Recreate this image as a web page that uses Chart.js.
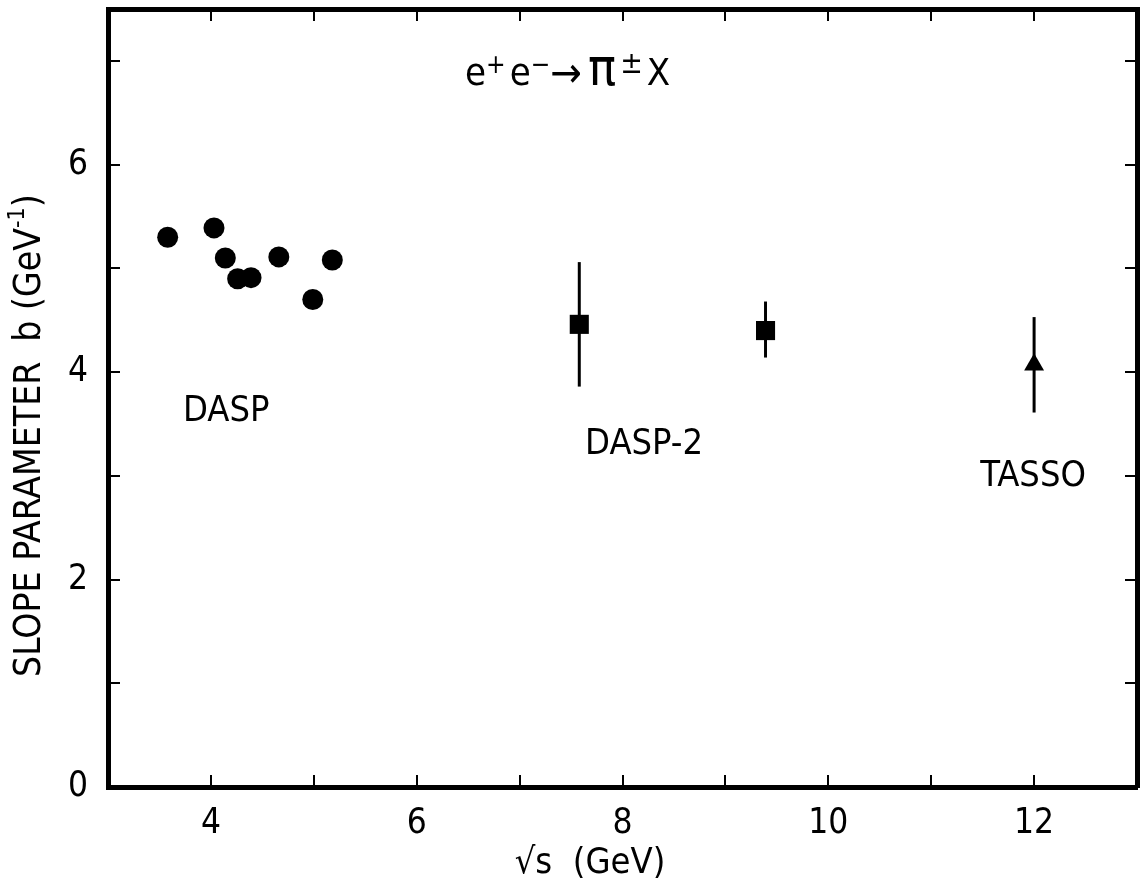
<!DOCTYPE html>
<html>
<head>
<meta charset="utf-8">
<title>Slope parameter b vs sqrt(s)</title>
<script src="https://cdn.jsdelivr.net/npm/chart.js@4.4.1/dist/chart.umd.min.js"></script>
<style>
  html, body { margin: 0; padding: 0; background: #fff; }
  #wrap { width: 1142px; height: 894px; }
</style>
</head>
<body>
<div id="wrap"><canvas id="slopeChart"></canvas></div>
<script>
// values
const daspX = [3.58, 4.03, 4.14, 4.26, 4.39, 4.66, 4.99, 5.18];
const daspB = [5.30, 5.39, 5.10, 4.90, 4.91, 5.11, 4.70, 5.08];

const dasp2X = [7.58, 9.39];
const dasp2B = [4.46, 4.40];
const dasp2Lo = [3.86, 4.14];
const dasp2Hi = [5.06, 4.68];

const tassoX = [12.0];
const tassoB = [4.07];
const tassoLo = [3.61];
const tassoHi = [4.53];

const xTickLabels = [4, 6, 8, 10, 12];
const yTickLabels = [0, 2, 4, 6];

// group names, anchored in data units
const groupNames = ['DASP', 'DASP-2', 'TASSO'];
const groupNameX = [4.15, 8.21, 11.99];
const groupNameY = [3.62, 3.30, 2.99];

const FONT = "'Liberation Sans Narrow', 'DejaVu Sans Condensed', 'Arial Narrow', sans-serif";

function points(xs, ys) {
    return xs.map((x, i) => ({ x: x, y: ys[i] }));
}

// draws a row of text pieces of different sizes / raise
function drawRun(ctx, pieces, x, y) {
    pieces.forEach(p => {
        ctx.font = p.size + 'px ' + FONT;
        ctx.fillText(p.t, x, y + (p.dy || 0));
        x += ctx.measureText(p.t).width + (p.gap || 0);
    });
}

// fixed axis box, no extra room for tick labels sticking out
function fixSize(scale, size) {
    if (scale.isHorizontal()) scale.height = size; else scale.width = size;
    scale.paddingTop = scale.paddingBottom = scale.paddingLeft = scale.paddingRight = 0;
}

const errorBars = {
    id: 'errorBars',
    afterDatasetsDraw(chart) {
        const ctx = chart.ctx;
        const xs = chart.scales.x, ys = chart.scales.y;
        ctx.save();
        ctx.strokeStyle = '#000';
        ctx.lineWidth = 3;
        chart.data.datasets.forEach(ds => {
            if (!ds.errLow) return;
            ds.data.forEach((p, i) => {
                const px = xs.getPixelForValue(p.x);
                ctx.beginPath();
                ctx.moveTo(px, ys.getPixelForValue(ds.errLow[i]));
                ctx.lineTo(px, ys.getPixelForValue(ds.errHigh[i]));
                ctx.stroke();
            });
        });
        ctx.restore();
    }
};

const texts = {
    id: 'texts',
    afterDraw(chart) {
        const ctx = chart.ctx;
        const xs = chart.scales.x, ys = chart.scales.y;
        const area = chart.chartArea;
        ctx.save();
        ctx.fillStyle = '#000';

        // group names
        ctx.textAlign = 'center';
        ctx.textBaseline = 'middle';
        ctx.font = '36px ' + FONT;
        groupNames.forEach((name, i) => {
            ctx.fillText(name, xs.getPixelForValue(groupNameX[i]), ys.getPixelForValue(groupNameY[i]));
        });

        // reaction
        ctx.textAlign = 'left';
        ctx.textBaseline = 'alphabetic';
        drawRun(ctx, [
            { t: 'e', size: 38 },
            { t: '+', size: 26, dy: -12, gap: 4 },
            { t: 'e', size: 38 },
            { t: '\u2212', size: 26, dy: -12, gap: 0 },
            { t: '\u2192', size: 42, dy: 2, gap: 6 },
            { t: '\u03c0', size: 52, gap: 4 },
            { t: '\u00b1', size: 30, dy: -12, gap: 4 },
            { t: 'X', size: 38 }
        ], xs.getPixelForValue(6.47), ys.getPixelForValue(6.77));

        // x axis title
        ctx.textAlign = 'center';
        ctx.textBaseline = 'middle';
        ctx.font = '36px ' + FONT;
        ctx.fillText('\u221as  (GeV)', area.left + 482, area.bottom + 77);

        // y axis title
        ctx.translate(30, area.bottom - 110);
        ctx.rotate(-Math.PI / 2);
        ctx.textAlign = 'left';
        ctx.textBaseline = 'middle';
        drawRun(ctx, [
            { t: 'SLOPE PARAMETER', size: 37, gap: 20 },
            { t: 'b (GeV', size: 37 },
            { t: '-1', size: 23, dy: -12 },
            { t: ')', size: 37 }
        ], 0, 0);
        ctx.restore();
    }
};

function frameAxis(position, size, min, max) {
    return {
        type: 'linear',
        position: position,
        min: min,
        max: max,
        ticks: { display: false, stepSize: 1 },
        grid: { drawOnChartArea: false, tickLength: -12, lineWidth: 2, color: '#000' },
        border: { display: true, width: 5, color: '#000' },
        afterFit(scale) { fixSize(scale, size); }
    };
}

new Chart(document.getElementById('slopeChart'), {
    type: 'scatter',
    data: {
        datasets: [{
            label: 'DASP',
            data: points(daspX, daspB),
            pointStyle: 'circle',
            pointRadius: 10.5,
            pointHoverRadius: 10.5,
            backgroundColor: '#000',
            borderColor: '#000',
            borderWidth: 0
        }, {
            label: 'DASP-2',
            data: points(dasp2X, dasp2B),
            errLow: dasp2Lo,
            errHigh: dasp2Hi,
            pointStyle: 'rect',
            pointRadius: 13.5,
            pointHoverRadius: 13.5,
            backgroundColor: '#000',
            borderColor: '#000',
            borderWidth: 0
        }, {
            label: 'TASSO',
            data: points(tassoX, tassoB),
            errLow: tassoLo,
            errHigh: tassoHi,
            pointStyle: 'triangle',
            pointRadius: 11.5,
            pointHoverRadius: 11.5,
            backgroundColor: '#000',
            borderColor: '#000',
            borderWidth: 0
        }]
    },
    options: {
        responsive: true,
        maintainAspectRatio: false,
        animation: false,
        layout: { padding: 0, autoPadding: false },
        plugins: {
            legend: { display: false },
            tooltip: { enabled: false }
        },
        scales: {
            x: {
                type: 'linear',
                position: 'bottom',
                min: 3,
                max: 13,
                ticks: {
                    stepSize: 1,
                    autoSkip: false,
                    maxRotation: 0,
                    padding: 28,
                    color: '#000',
                    font: { family: FONT, size: 35 },
                    callback: v => xTickLabels.includes(v) ? String(v) : ''
                },
                grid: { drawOnChartArea: false, tickLength: -12, lineWidth: 2, color: '#000' },
                border: { display: true, width: 5, color: '#000' },
                afterFit(scale) { fixSize(scale, 107); }
            },
            y: {
                type: 'linear',
                position: 'left',
                min: 0,
                max: 7.5,
                ticks: {
                    stepSize: 1,
                    includeBounds: false,
                    autoSkip: false,
                    padding: 32,
                    color: '#000',
                    font: { family: FONT, size: 35 },
                    callback: v => yTickLabels.includes(v) ? String(v) : ''
                },
                grid: { drawOnChartArea: false, tickLength: -12, lineWidth: 2, color: '#000' },
                border: { display: true, width: 5, color: '#000' },
                afterFit(scale) { fixSize(scale, 108); }
            },
            x2: frameAxis('top', 9, 3, 13),
            y2: frameAxis('right', 5, 0, 7.5)
        }
    },
    plugins: [errorBars, texts]
});
</script>
</body>
</html>
